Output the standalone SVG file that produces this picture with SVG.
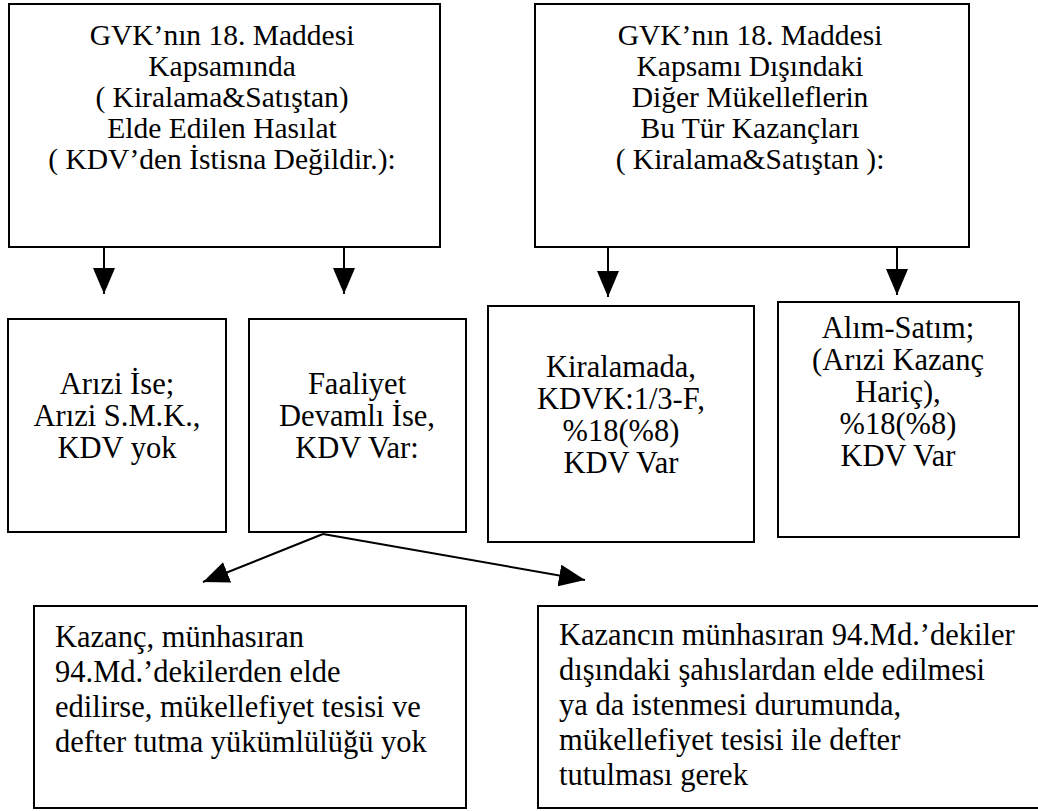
<svg xmlns="http://www.w3.org/2000/svg" width="1038" height="811" viewBox="0 0 1038 811">
<style>
.box{fill:#fff;stroke:#000;stroke-width:2}
.t{font-family:'Liberation Serif','DejaVu Serif',serif;fill:#000}
.top{font-size:29.5px}
.mid{font-size:30.5px}
.bot{font-size:30.5px}
.c{text-anchor:middle}
.ln{stroke:#000;stroke-width:2;fill:none}
</style>
<defs>
<marker id="ah" viewBox="0 0 26 22" refX="26" refY="11" markerWidth="26" markerHeight="22" markerUnits="userSpaceOnUse" orient="auto">
<path d="M0,0 L26,11 L0,22 Z" fill="#000"/>
</marker>
</defs>
<rect width="1038" height="811" fill="#fff"/>
<g id="n1">
<rect class="box" x="9" y="4" width="431" height="243"/>
<text class="t top c" x="222" y="45">GVK’nın 18. Maddesi</text>
<text class="t top c" x="222" y="76">Kapsamında</text>
<text class="t top c" x="222" y="107">( Kiralama&amp;Satıştan)</text>
<text class="t top c" x="222" y="138">Elde Edilen Hasılat</text>
<text class="t top c" x="222" y="169">( KDV’den İstisna Değildir.):</text>
</g>
<g id="n2">
<rect class="box" x="535" y="4" width="434" height="243"/>
<text class="t top c" x="750" y="45">GVK’nın 18. Maddesi</text>
<text class="t top c" x="750" y="76">Kapsamı Dışındaki</text>
<text class="t top c" x="750" y="107">Diğer Mükelleflerin</text>
<text class="t top c" x="750" y="138">Bu Tür Kazançları</text>
<text class="t top c" x="750" y="169">( Kiralama&amp;Satıştan ):</text>
</g>
<g id="n3">
<rect class="box" x="8" y="319" width="218" height="213"/>
<text class="t mid c" x="117" y="394">Arızi İse;</text>
<text class="t mid c" x="117" y="426">Arızi S.M.K.,</text>
<text class="t mid c" x="117" y="458">KDV yok</text>
</g>
<g id="n4">
<rect class="box" x="249" y="319" width="217" height="213"/>
<text class="t mid c" x="357" y="394">Faaliyet</text>
<text class="t mid c" x="357" y="426">Devamlı İse,</text>
<text class="t mid c" x="357" y="458">KDV Var:</text>
</g>
<g id="n5">
<rect class="box" x="488" y="306" width="266" height="236"/>
<text class="t mid c" x="621" y="377">Kiralamada,</text>
<text class="t mid c" x="621" y="409">KDVK:1/3-F,</text>
<text class="t mid c" x="621" y="441">%18(%8)</text>
<text class="t mid c" x="621" y="473">KDV Var</text>
</g>
<g id="n6">
<rect class="box" x="778" y="302" width="241" height="235"/>
<text class="t mid c" x="898" y="338">Alım-Satım;</text>
<text class="t mid c" x="898" y="370">(Arızi Kazanç</text>
<text class="t mid c" x="898" y="402">Hariç),</text>
<text class="t mid c" x="898" y="434">%18(%8)</text>
<text class="t mid c" x="898" y="466">KDV Var</text>
</g>
<g id="n7">
<rect class="box" x="34" y="606" width="432" height="202"/>
<text class="t bot" x="55" y="647">Kazanç, münhasıran</text>
<text class="t bot" x="55" y="682">94.Md.’dekilerden elde</text>
<text class="t bot" x="55" y="717">edilirse, mükellefiyet tesisi ve</text>
<text class="t bot" x="55" y="752">defter tutma yükümlülüğü yok</text>
</g>
<g id="n8">
<rect class="box" x="538" y="606" width="510" height="202"/>
<text class="t bot" x="559" y="645">Kazancın münhasıran 94.Md.’dekiler</text>
<text class="t bot" x="559" y="680">dışındaki şahıslardan elde edilmesi</text>
<text class="t bot" x="559" y="715">ya da istenmesi durumunda,</text>
<text class="t bot" x="559" y="750">mükellefiyet tesisi ile defter</text>
<text class="t bot" x="559" y="785">tutulması gerek</text>
</g>
<g id="connectors">
<line class="ln" x1="104" y1="247" x2="104" y2="294" marker-end="url(#ah)"/>
<line class="ln" x1="344" y1="247" x2="344" y2="294" marker-end="url(#ah)"/>
<line class="ln" x1="608" y1="247" x2="608" y2="297" marker-end="url(#ah)"/>
<line class="ln" x1="897" y1="247" x2="897" y2="295" marker-end="url(#ah)"/>
<line class="ln" x1="323" y1="534" x2="203" y2="582" marker-end="url(#ah)"/>
<line class="ln" x1="323" y1="534" x2="585" y2="580" marker-end="url(#ah)"/>
</g>
</svg>
